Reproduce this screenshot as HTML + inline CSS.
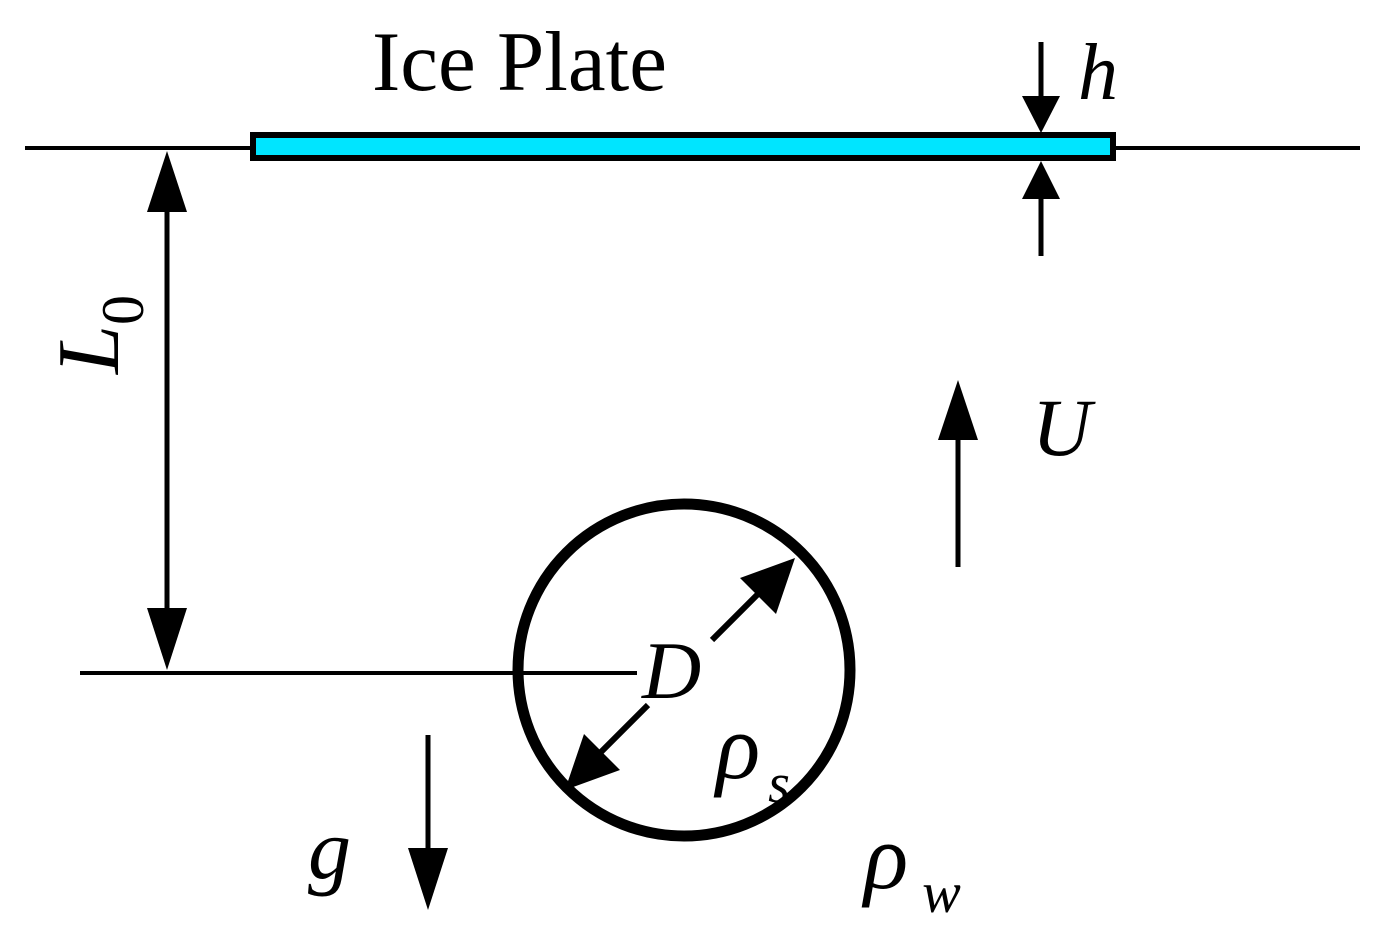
<!DOCTYPE html>
<html><head><style>
html,body{margin:0;padding:0;background:#fff;}
svg{display:block;}
text{font-family:"Liberation Serif",serif;fill:#000;}
</style></head><body>
<svg width="1397" height="950" viewBox="0 0 1397 950" xmlns="http://www.w3.org/2000/svg">
<line x1="25" y1="148" x2="1360" y2="148" stroke="#000" stroke-width="4"/>
<rect x="253" y="135" width="860" height="23" fill="#00e5ff" stroke="#000" stroke-width="6"/>
<text x="372" y="90" font-size="85">Ice Plate</text>
<line x1="1041" y1="42" x2="1041" y2="100" stroke="#000" stroke-width="5"/>
<polygon points="1022,96 1060,96 1041,133" fill="#000"/>
<line x1="1041" y1="195" x2="1041" y2="256" stroke="#000" stroke-width="5"/>
<polygon points="1022,199 1060,199 1041,161" fill="#000"/>
<text x="1078" y="99" font-size="80" font-style="italic">h</text>
<line x1="167" y1="200" x2="167" y2="620" stroke="#000" stroke-width="5"/>
<polygon points="147,212 187,212 167,151" fill="#000"/>
<polygon points="147,608 187,608 167,670" fill="#000"/>
<text transform="translate(118,374) rotate(-90)" font-size="88" font-style="italic">L<tspan font-size="60" dy="25" font-style="normal">0</tspan></text>
<line x1="80" y1="673" x2="637" y2="673" stroke="#000" stroke-width="4"/>
<circle cx="684" cy="670" r="166" fill="none" stroke="#000" stroke-width="11"/>
<line x1="712" y1="640" x2="760" y2="592" stroke="#000" stroke-width="6"/>
<polygon points="795,558 776,614 740,578" fill="#000"/>
<line x1="648" y1="705" x2="600" y2="753" stroke="#000" stroke-width="6"/>
<polygon points="565,790 584,734 620,770" fill="#000"/>
<text x="642" y="698" font-size="82" font-style="italic">D</text>
<text x="716" y="778" font-size="92" font-style="italic">ρ<tspan font-size="56" dx="8" dy="24">s</tspan></text>
<line x1="958" y1="430" x2="958" y2="567" stroke="#000" stroke-width="5"/>
<polygon points="938,440 978,440 958,380" fill="#000"/>
<text x="1032" y="455" font-size="82" font-style="italic">U</text>
<line x1="428" y1="735" x2="428" y2="860" stroke="#000" stroke-width="5"/>
<polygon points="408,848 448,848 428,910" fill="#000"/>
<text x="308" y="878" font-size="86" font-style="italic">g</text>
<text x="864" y="888" font-size="92" font-style="italic">ρ<tspan font-size="58" dx="14" dy="24">w</tspan></text>
</svg>
</body></html>
